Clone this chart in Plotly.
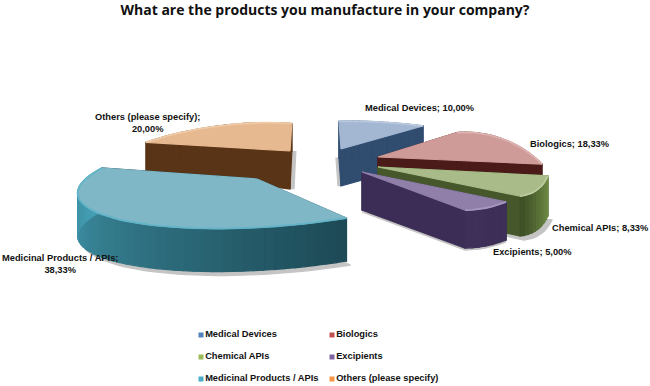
import math
import plotly.graph_objects as go

# ---- data ----
categories = ["Medical Devices", "Biologics", "Chemical APIs", "Excipients",
              "Medicinal Products / APIs", "Others (please specify)"]
values = [10.00, 18.33, 8.33, 5.00, 38.33, 20.00]
title_text = "What are the products you manufacture in your company?"

# ---- perspective geometry of each exploded slice (pixels) ----
apex_x = [341, 378, 378, 362, 257, 290]
apex_y = [149, 157, 167, 172, 179, 151]
ell_x = [400, 481, 449, 455, 279, 223]
ell_y = [153, 197, 72, 48, 177.4, 162]
mid_ux = [-20, 22, 88, 31, -153, -5]
mid_uy = [-31, -58, 118, 160, 43.6, -36]
side_vx = [-136, -78, 54, 131, 131, -124]
side_vy = [-8, -29, -39, -26, 26.8, 16]
apex_depth = [37, 38, 38, 38, 42, 38]
rim_depth = [37, 38, 40, 38, 43, 28]
shadow_dx = [-3, 0, 4, 0, 4, 4]
shadow_dy = [0, 0, 4, 2, 4, 0]

# ---- colours ----
top_col = ["#a3b7d3", "#cf9b99", "#a9bb88", "#8f7fa9", "#80b7c6", "#e6b990"]
cut_col = ["#304c6f", "#4b1b19", "#46582b", "#3b2d55", "#1f4f5c", "#5a3417"]
rim_a = ["#304c6f", "#4b1b19", "#6f8a45", "#3d2f58", "#1d4a56", "#5a3417"]
rim_b = ["#304c6f", "#4b1b19", "#3f5127", "#3f3059", "#45a0b6", "#5a3417"]
edge_col = ["#b9c9de", "#dcb2b0", "#bccb9f", "#a597bd", "#62b4c8", "#eecba9"]
key_col = ["#4f81bd", "#c0504d", "#9bbb59", "#8064a2", "#4bacc6", "#f79646"]

# ---- label layout ----
label_x = [420, 570, 600, 532, 60, 147]
label_y = [108, 144, 228, 252, 264, 123]
key_x = [201, 332, 201, 332, 201, 332]
key_y = [335, 335, 357, 357, 379, 379]

draw_order = [5, 0, 1, 2, 3, 4]
total = sum(values)
edges = [0]
for v in values:
    edges.append(edges[-1] + v / total * 360)


def rim(i, deg):
    mid = (edges[i] + edges[i + 1]) / 2
    p = math.radians(deg - mid)
    return (ell_x[i] + mid_ux[i] * math.cos(p) - side_vx[i] * math.sin(p),
            ell_y[i] + mid_uy[i] * math.cos(p) - side_vy[i] * math.sin(p))


def blend(a, b, t):
    ca = [int(a[k:k + 2], 16) for k in (1, 3, 5)]
    cb = [int(b[k:k + 2], 16) for k in (1, 3, 5)]
    return "rgb(%d,%d,%d)" % tuple(round(x + (y - x) * t) for x, y in zip(ca, cb))


fig = go.Figure()


def poly(pts, color, name):
    fig.add_trace(go.Scatter(
        x=[p[0] for p in pts] + [pts[0][0]], y=[p[1] for p in pts] + [pts[0][1]],
        mode="lines", fill="toself", fillcolor=color,
        line=dict(color=color, width=1.2), name=name,
        hoverinfo="name", showlegend=False))


for i in draw_order:
    name = categories[i]
    n = max(6, int((edges[i + 1] - edges[i]) / 3))
    degs = [edges[i] + (edges[i + 1] - edges[i]) * k / n for k in range(n + 1)]
    arc = [rim(i, d) for d in degs]
    ax, ay = apex_x[i], apex_y[i]
    da, dr = apex_depth[i], rim_depth[i]

    # soft drop shadow of the lower outline
    sx, sy = shadow_dx[i], shadow_dy[i]
    if sx or sy:
        poly([(ax + sx, ay + da + sy)] + [(x + sx, y + dr + sy) for x, y in arc],
             "#c4c4c4", name)

    # cut faces
    for x0, y0 in (arc[0], arc[-1]):
        poly([(ax, ay), (x0, y0), (x0, y0 + dr), (ax, ay + da)], cut_col[i], name)

    # curved outer wall, shaded band by band
    for k in range(n):
        (x0, y0), (x1, y1) = arc[k], arc[k + 1]
        poly([(x0, y0), (x1, y1), (x1, y1 + dr), (x0, y0 + dr)],
             blend(rim_a[i], rim_b[i], k / (n - 1)), name)

    # top face and light rim edge
    poly([(ax, ay)] + arc, top_col[i], name)
    fig.add_trace(go.Scatter(
        x=[p[0] for p in arc], y=[p[1] for p in arc], mode="lines",
        line=dict(color=edge_col[i], width=1.8), hoverinfo="skip", showlegend=False))

# keys
for i, name in enumerate(categories):
    fig.add_trace(go.Scatter(
        x=[key_x[i]], y=[key_y[i]], mode="markers+text", text=[name],
        textposition="middle right",
        textfont=dict(family="Liberation Sans", size=9.3, color="#111111", weight="bold"),
        marker=dict(symbol="square", size=5, color=key_col[i]),
        hoverinfo="skip", showlegend=False))

# data labels
wrapped = {4: "Medicinal Products / APIs;<br>", 5: "Others (please specify);<br>"}
for i, name in enumerate(categories):
    pct = f"{values[i]:.2f}".replace(".", ",") + "%"
    text = wrapped.get(i, name + "; ") + pct
    fig.add_annotation(x=label_x[i], y=label_y[i], text=text, showarrow=False,
                       align="center", xanchor="center", yanchor="middle",
                       font=dict(family="Liberation Sans", size=9.3, color="#111111", weight="bold"))

fig.update_layout(
    width=650, height=386, margin=dict(l=0, r=0, t=0, b=0),
    paper_bgcolor="white", plot_bgcolor="white", showlegend=False,
    xaxis=dict(range=[0, 650], visible=False, fixedrange=True),
    yaxis=dict(range=[386, 0], visible=False, fixedrange=True),
    title=dict(text=title_text, x=0.5, xanchor="center", y=0.986, yanchor="top",
               font=dict(family="Open Sans", size=14, color="#111111", weight="bold")),
)
fig.write_html("out.html", config={"displayModeBar": False},
               post_script="document.body.style.margin='0';document.documentElement.style.overflow='hidden';")
